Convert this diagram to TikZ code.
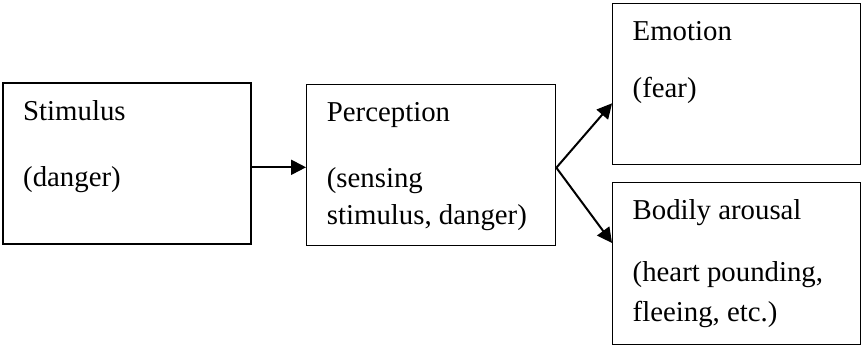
\documentclass[tikz,border=0pt]{standalone}
\usepackage{fontspec}
\setmainfont{Liberation Serif}
\usetikzlibrary{arrows.meta}
\begin{document}
\begin{tikzpicture}[x=1pt,y=-1pt,
 box/.style={draw,line width=1.3pt,rectangle,inner sep=0pt},
 lbl/.style={anchor=base west,inner sep=0pt,font=\fontsize{28.8}{34}\selectfont},
 arr/.style={line width=2pt,-{Triangle[length=15pt,width=15pt]}}]
\useasboundingbox (0,0) rectangle (862,345);
\node[box,minimum width=248pt,minimum height=161pt] (stim) at (127,163.5) {};
\node[box,minimum width=249pt,minimum height=161.5pt] (perc) at (431.2,165) {};
\node[box,minimum width=248pt,minimum height=161pt] (emo) at (736.7,83.8) {};
\node[box,minimum width=248pt,minimum height=162pt] (bod) at (736.7,263.3) {};
\node[lbl] (s1) at (23,120.5) {Stimulus};
\node[lbl] (s2) at (23,186.3) {(danger)};
\node[lbl] (p1) at (326.7,121.7) {Perception};
\node[lbl] (p2) at (326.7,187.3) {(sensing};
\node[lbl] (p3) at (326.7,224.3) {stimulus, danger)};
\node[lbl] (e1) at (632.5,40.7) {Emotion};
\node[lbl] (e2) at (632.5,97.3) {(fear)};
\node[lbl] (b1) at (632.5,219.3) {Bodily arousal};
\node[lbl] (b2) at (632.5,281.7) {(heart pounding,};
\node[lbl] (b3) at (632.5,321.7) {fleeing, etc.)};
\draw[arr] ([yshift=-3.8pt]stim.east) -- ([yshift=-2.3pt]perc.west);
\draw[arr] ([yshift=-2.7pt]perc.east) -- ([yshift=-19.5pt]emo.west);
\draw[arr] ([yshift=-2.7pt]perc.east) -- ([yshift=20.3pt]bod.west);
\end{tikzpicture}
\end{document}
